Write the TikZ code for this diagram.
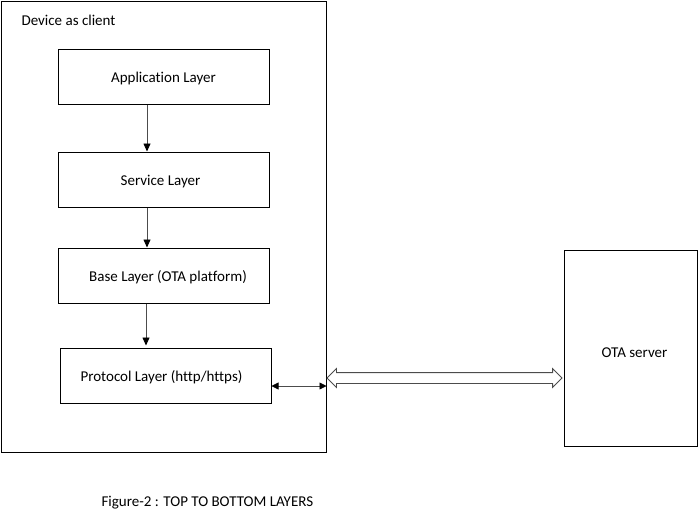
\documentclass[tikz,border=0pt]{standalone}
\usepackage{fontspec}
\setmainfont{Carlito}[Ligatures=NoCommon]
\usetikzlibrary{arrows.meta,shapes.arrows}

\tikzset{
  box/.style={draw, line width=1, inner sep=0},
  layer/.style={box, minimum width=211, minimum height=55},
  down/.style={draw=black!70, line width=0.8, -{Triangle[length=8,width=7,color=black,fill=black]}},
  both/.style={draw=black!70, line width=0.8, {Triangle[length=7,width=7,color=black,fill=black]}-{Triangle[length=7,width=7,color=black,fill=black]}},
}

\begin{document}
\begin{tikzpicture}[x=1pt,y=-1pt,font=\fontsize{15}{18}\selectfont]
\useasboundingbox (0,0) rectangle (698,515);

% client side
\node[box, minimum width=325, minimum height=451] (device) at (163.5,226.5) {};
\node[anchor=west] (devlabel) at (18,20) {Device as client};

\node[layer, label={[yshift=-1.5]center:Application Layer}] (app) at (163.5,76.5) {};
\node[layer, label={[xshift=-3,yshift=-2.5]center:Service Layer}] (service) at (163.5,179.5) {};
\node[layer, label={[xshift=4.5,yshift=-1.5]center:Base Layer (OTA platform)}] (base) at (163.5,275.5) {};
\node[layer, label={[xshift=-4,yshift=-1.5]center:Protocol Layer (http/https)}] (proto) at (165.5,375.5) {};

\draw[down] ([xshift=-16.5]app.south) -- ([xshift=-16.5]service.north);
\draw[down] ([xshift=-16.5]service.south) -- ([xshift=-16.5]base.north);
\draw[down] ([xshift=-17.5]base.south) -- ([xshift=-19.5,yshift=2]proto.north);

\draw[both] ([yshift=-10.5]proto.east) -- ([yshift=-10.5]proto.east -| device.east);

% server side
\node[box, minimum width=133, minimum height=196, label={[xshift=4,yshift=-4.5]center:OTA server}] (ota) at (630.5,348) {};

\node[double arrow, draw=black!70, line width=0.8, inner xsep=0, inner ysep=5,
      minimum height=235, double arrow head extend=4] (link) at (444.5,378) {};

\node[anchor=west] (caption) at (98,503) {Figure-2 : TOP TO BOTTOM LAYERS};

\end{tikzpicture}
\end{document}
